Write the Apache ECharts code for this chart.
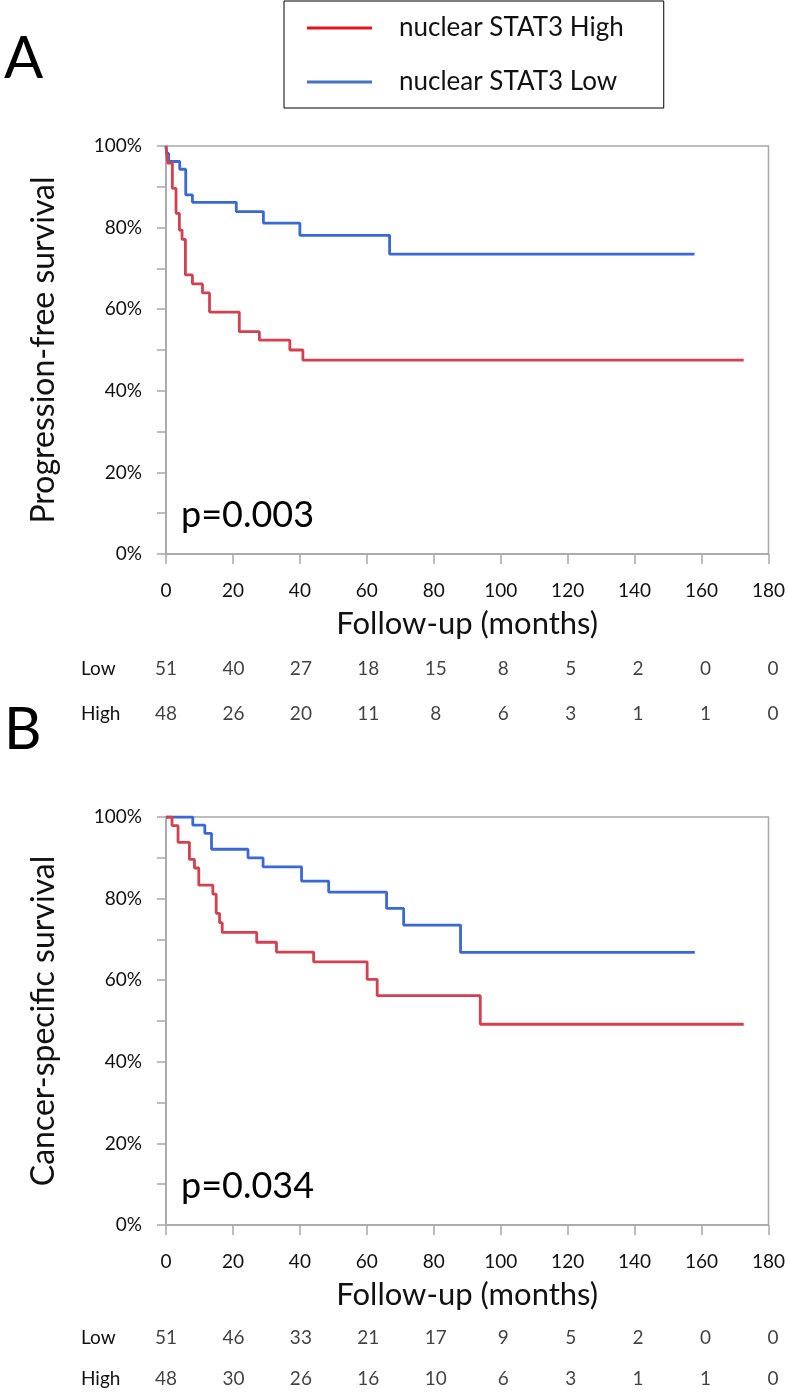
<!DOCTYPE html>
<html><head><meta charset="utf-8">
<script src="https://cdn.jsdelivr.net/npm/echarts@6/dist/echarts.min.js"></script>
<style>html,body{margin:0;padding:0;background:#fff}#c{width:788px;height:1400px}</style>
</head><body><div id="c"></div>
<script>
// ---- data ----
const groupNames = ['nuclear STAT3 High', 'nuclear STAT3 Low'];
const riskTimes = [0, 20, 40, 60, 80, 100, 120, 140, 160, 180];
const riskRowLabels = ['Low', 'High'];

// Panel A: progression-free survival (months, %)
const pfsHighTime = [0, 0.5, 1.9, 3.0, 4.0, 4.8, 5.8, 7.9, 10.9, 13.0, 21.9, 27.9, 37.0, 40.9, 172.6];
const pfsHighSurv = [100, 95.8, 89.6, 83.5, 79.4, 77.1, 68.4, 66.2, 64.0, 59.3, 54.5, 52.4, 50.0, 47.5, 47.5];
const pfsLowTime = [0, 0.2, 0.8, 4.1, 5.9, 7.9, 21.0, 29.1, 40.0, 66.8, 157.9];
const pfsLowSurv = [100, 98.2, 96.2, 94.3, 88.0, 86.2, 83.9, 81.1, 78.1, 73.5, 73.5];
const pfsRiskLow = [51, 40, 27, 18, 15, 8, 5, 2, 0, 0];
const pfsRiskHigh = [48, 26, 20, 11, 8, 6, 3, 1, 1, 0];

// Panel B: cancer-specific survival (months, %)
const cssHighTime = [0, 1.8, 3.6, 7.0, 8.5, 9.8, 14.0, 15.0, 16.0, 16.8, 27.1, 33.0, 44.1, 60.1, 63.1, 93.9, 172.6];
const cssHighSurv = [100, 97.9, 93.8, 89.6, 87.5, 83.3, 81.1, 76.4, 74.1, 71.7, 69.3, 66.9, 64.5, 60.2, 56.2, 49.2, 49.2];
const cssLowTime = [0, 8.0, 11.6, 13.6, 24.5, 29.0, 40.5, 48.6, 65.9, 71.0, 88.0, 158.0];
const cssLowSurv = [100, 98.0, 96.0, 92.1, 90.0, 87.8, 84.3, 81.6, 77.6, 73.5, 66.8, 66.8];
const cssRiskLow = [51, 46, 33, 21, 17, 9, 5, 2, 0, 0];
const cssRiskHigh = [48, 30, 26, 16, 10, 6, 3, 1, 1, 0];

const panelLabels = ['A', 'B'];
const pValues = ['p=0.003', 'p=0.034'];
const yTitles = ['Progression-free survival', 'Cancer-specific survival'];
const xTitle = 'Follow-up (months)';

// ---- styles ----
const FONT = 'Lato, "Open Sans", sans-serif';
const RED = '#d4404f', BLUE = '#3a68d6';
const AXIS = '#a8a8a8';
const PANEL_DY = 671;

const chart = echarts.init(document.getElementById('c'), null, {renderer: 'canvas'});

const grids = [], xAxes = [], yAxes = [], series = [];
function pairs(t, s) { return t.map((v, i) => [v, s[i]]); }

const panels = [
  {high: [pfsHighTime, pfsHighSurv], low: [pfsLowTime, pfsLowSurv], rl: pfsRiskLow, rh: pfsRiskHigh},
  {high: [cssHighTime, cssHighSurv], low: [cssLowTime, cssLowSurv], rl: cssRiskLow, rh: cssRiskHigh}
];

panels.forEach((p, k) => {
  const off = k * PANEL_DY;
  const gPlot = grids.length;
  grids.push({left: 166, top: 146 + off, width: 607, height: 408, show: true,
    borderColor: AXIS, borderWidth: 1.5, backgroundColor: 'transparent', containLabel: false});
  xAxes.push({gridIndex: gPlot, type: 'value', min: 0, max: 180, interval: 20,
    axisLine: {show: true, lineStyle: {color: AXIS, width: 1.5}},
    axisTick: {show: true, length: 10, lineStyle: {color: AXIS, width: 1.5}},
    axisLabel: {fontFamily: FONT, fontSize: 19, color: '#111', margin: 27},
    splitLine: {show: false},
    name: xTitle, nameLocation: 'middle', nameGap: 54,
    nameTextStyle: {fontFamily: FONT, fontSize: 31, color: '#111'}});
  yAxes.push({gridIndex: gPlot, type: 'value', min: 0, max: 100, interval: 20,
    axisLine: {show: true, lineStyle: {color: AXIS, width: 1.5}},
    axisTick: {show: true, length: 9, lineStyle: {color: AXIS, width: 1.5}},
    minorTick: {show: true, splitNumber: 2, length: 9, lineStyle: {color: AXIS, width: 1.5}},
    axisLabel: {fontFamily: FONT, fontSize: 19, color: '#111', margin: 24, formatter: '{value}%'},
    splitLine: {show: false},
    name: yTitles[k], nameLocation: 'middle', nameGap: 106, nameRotate: 90,
    nameTextStyle: {fontFamily: FONT, fontSize: 32, color: '#111'}});
  series.push({name: groupNames[0], type: 'line', step: 'end', xAxisIndex: gPlot, yAxisIndex: gPlot,
    data: pairs(p.high[0], p.high[1]), showSymbol: false, symbol: 'none', z: 3,
    lineStyle: {color: RED, width: 2.8}, itemStyle: {color: RED}});
  series.push({name: groupNames[1], type: 'line', step: 'end', xAxisIndex: gPlot, yAxisIndex: gPlot,
    data: pairs(p.low[0], p.low[1]), showSymbol: false, symbol: 'none', z: 2,
    lineStyle: {color: BLUE, width: 2.8}, itemStyle: {color: BLUE}});

  const gRisk = grids.length;
  grids.push({left: 166, top: 646 + off, width: 607, height: 90, show: false});
  xAxes.push({gridIndex: gRisk, type: 'value', min: 0, max: 180, interval: 20, show: false});
  yAxes.push({gridIndex: gRisk, type: 'category', data: riskRowLabels, inverse: true,
    axisLine: {show: false}, axisTick: {show: false}, splitLine: {show: false},
    axisLabel: {fontFamily: FONT, fontSize: 19, color: '#111', align: 'left', margin: 85}});
  const rows = [p.rl, p.rh];
  rows.forEach((arr, r) => {
    series.push({type: 'scatter', xAxisIndex: gRisk, yAxisIndex: gRisk,
      symbol: 'circle', symbolSize: 2, itemStyle: {color: 'rgba(255,255,255,0)'}, silent: true,
      data: riskTimes.map((t, i) => [t, riskRowLabels[r], arr[i]]),
      label: {show: true, position: 'inside', formatter: q => String(q.data[2]),
        fontFamily: FONT, fontSize: 19, color: '#111'},
      labelLayout: {hideOverlap: false}});
  });
});

const graphics = [];
panelLabels.forEach((s, k) => {
  graphics.push({type: 'text', left: 4, top: 30 + k * PANEL_DY,
    style: {text: s, fontFamily: FONT, fontSize: 58, fill: '#000'}});
  graphics.push({type: 'text', left: 181, top: 497 + k * PANEL_DY,
    style: {text: pValues[k], fontFamily: FONT, fontSize: 36, fill: '#000'}});
});

chart.setOption({
  animation: false,
  textStyle: {fontFamily: FONT},
  grid: grids, xAxis: xAxes, yAxis: yAxes, series: series, graphic: graphics,
  legend: {
    left: 284, top: 1, orient: 'vertical', selectedMode: false,
    data: [{name: groupNames[0], itemStyle: {color: '#e3151c'}},
           {name: groupNames[1], itemStyle: {color: '#4472c4'}}],
    icon: 'rect', itemWidth: 65, itemHeight: 3, itemGap: 24,
    padding: [12, 40, 11, 23],
    borderColor: '#000', borderWidth: 1,
    textStyle: {fontFamily: FONT, fontSize: 26, color: '#111', lineHeight: 30, padding: [0, 0, 0, 22]}
  }
});
</script>
</body></html>
